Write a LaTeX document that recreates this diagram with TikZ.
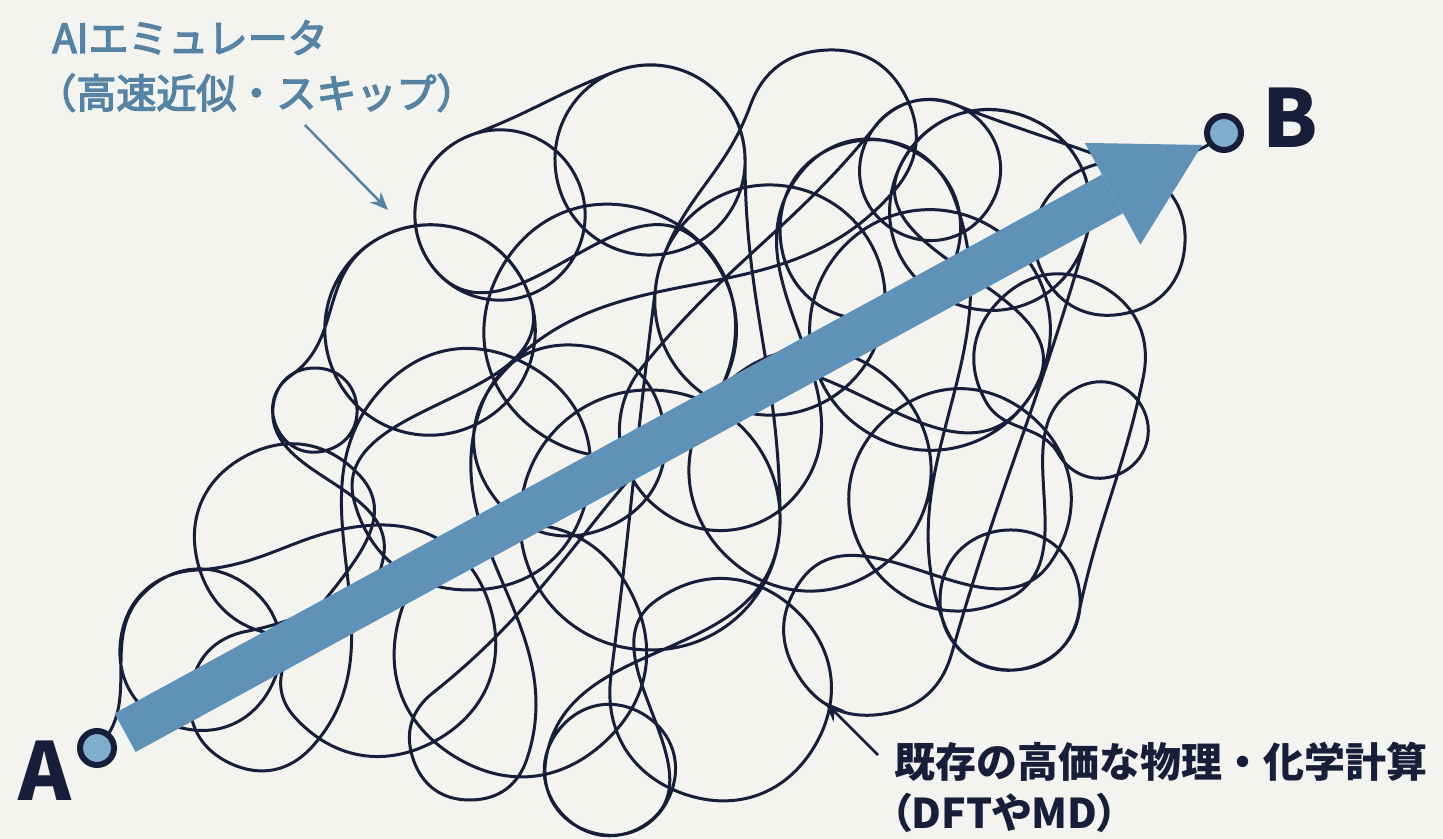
\documentclass[tikz,border=0pt]{standalone}
\usepackage{fontspec}
\newfontfamily\jp{Noto Sans CJK JP}
\newfontfamily\jpmed{Noto Sans CJK JP}[FakeBold=3.5]
\newfontfamily\jpprop{Noto Sans CJK JP}[RawFeature=+palt]
\usetikzlibrary{arrows.meta}
\definecolor{paper}{RGB}{243,243,239}
\definecolor{ink}{RGB}{22,30,58}
\definecolor{steel}{RGB}{96,145,182}
\definecolor{steellight}{RGB}{128,172,206}
\definecolor{labelblue}{RGB}{86,131,163}
\pgfdeclarelayer{paperlayer}
\pgfdeclarelayer{back}
\pgfsetlayers{paperlayer,back,main}

% append one Bezier piece from the current pen state to (#1,#2),
% arriving with unit tangent (#3,#4)
\newcommand\scribbleto[4]{%
  \pgfmathsetmacro\dd{0.4*veclen(#1-\lastx,#2-\lasty)}%
  \pgfmathsetmacro\ax{\lastx+\dd*\lasttx}%
  \pgfmathsetmacro\ay{\lasty+\dd*\lastty}%
  \pgfmathsetmacro\bx{#1-\dd*(#3)}%
  \pgfmathsetmacro\by{#2-\dd*(#4)}%
  \xdef\scribblepts{\scribblepts .. controls (\ax,\ay) and (\bx,\by) .. (#1,#2)}%
  \xdef\lastx{#1}\xdef\lasty{#2}\xdef\lasttx{#3}\xdef\lastty{#4}%
}

\begin{document}
\begin{tikzpicture}[x=0.5pt,y=-0.5pt,
  endpoint/.style={circle,draw=ink,fill=steellight,line width=3pt,
    minimum size=17pt,inner sep=0pt},
  ptlabel/.style={font=\jp\bfseries\fontsize{40}{40}\selectfont,text=ink,
    anchor=base west,inner sep=0pt},
  aitext/.style={font=\jpmed\fontsize{20}{24}\selectfont,text=labelblue,
    anchor=base west,inner sep=0pt},
  calctext/.style={font=\jp\bfseries\fontsize{20.5}{26}\selectfont,text=ink,
    anchor=base west,inner sep=0pt},
  scribble/.style={draw=ink,line width=1.5pt,line join=round,line cap=round},
  bigarrow/.style={draw=steel,line width=22pt,
    -{Triangle[width=58pt,length=51pt,line width=0pt]},
    shorten <=6pt,shorten >=2.5pt},
  annoblue/.style={draw=labelblue,line width=1.25pt,
    -{Stealth[length=9pt,width=7.5pt]}},
  annoink/.style={draw=ink,line width=1.25pt,
    -{Stealth[length=10pt,width=8pt]}},
]
\useasboundingbox (0,0) rectangle (1443,839);
\begin{pgfonlayer}{paperlayer}
  \fill[paper] (0,0) rectangle (1443,839);
\end{pgfonlayer}

% end points of the route
\node[endpoint] (A) at (97,748) {};
\node[endpoint] (B) at (1224,133) {};
\node[ptlabel] (Alabel) at (18,800) {A};
\node[ptlabel] (Blabel) at (1262,148) {B};

% Scribble: a chain of loops (centre x / centre y / radius / turning sense).
% The pen enters each loop along the line from the previous centre, runs
% round it and leaves heading for the next centre; the last entry is B.
\def\scribblepts{}
\xdef\ppx{97}\xdef\ppy{748}
\xdef\qx{200}\xdef\qy{650}\xdef\qr{80}\xdef\qs{1}
\xdef\lastx{97}\xdef\lasty{748}\xdef\lasttx{0.724}\xdef\lastty{-0.69}
\xdef\lastdout{-28.6}
\foreach \cx/\cy/\rad/\sgn in {
   380/640/115/1, 290/540/95/-1, 315/410/42/1, 430/330/105/1,
   470/470/120/-1, 260/700/70/1, 520/650/125/1, 610/330/125/-1,
   500/215/85/1, 650/160/95/1, 650/520/130/1, 610/770/65/-1,
   720/690/110/1, 770/300/115/1, 830/135/85/1, 570/440/95/-1,
   470/740/60/1, 810/470/120/1, 930/330/120/-1, 990/210/100/1,
   870/630/85/1, 960/500/110/-1, 1100/430/48/1, 1060/360/85/1,
   1010/600/70/1, 870/230/90/-1, 720/430/100/1, 930/170/70/1,
   1110/240/75/1, 1224/133/0/1}{
  \pgfmathsetmacro\din{atan2(\qy-\ppy,\qx-\ppx)}
  \pgfmathsetmacro\dout{atan2(\cy-\qy,\cx-\qx)}
  \pgfmathsetmacro\turn{360+\qs*(mod(\dout-\din+540,360)-180)}
  \pgfmathtruncatemacro\nn{ceil(\turn/95)}
  \pgfmathsetmacro\stepang{\qs*\turn/\nn}
  \foreach \jj in {0,...,\nn}{
    \pgfmathsetmacro\thang{\din-\qs*90+\jj*\stepang}
    \pgfmathsetmacro\px{\qx+\qr*cos(\thang)}
    \pgfmathsetmacro\py{\qy+\qr*sin(\thang)}
    \pgfmathsetmacro\tx{-\qs*sin(\thang)}
    \pgfmathsetmacro\ty{\qs*cos(\thang)}
    \scribbleto{\px}{\py}{\tx}{\ty}
  }
  \xdef\ppx{\qx}\xdef\ppy{\qy}
  \xdef\qx{\cx}\xdef\qy{\cy}\xdef\qr{\rad}\xdef\qs{\sgn}
  \xdef\lastdout{\dout}
}
% last piece, arriving at B
\pgfmathsetmacro\fx{cos(\lastdout)}
\pgfmathsetmacro\fy{sin(\lastdout)}
\scribbleto{1224}{133}{\fx}{\fy}

\begin{pgfonlayer}{back}
  % the tangled conventional path, from A to B
  \edef\drawscribble{\noexpand\draw[scribble] (A.center)\scribblepts
    -- (B.center);}
  \drawscribble
  % the direct shortcut
  \draw[bigarrow] (A) -- (B);
\end{pgfonlayer}

% captions
\node[aitext] (ai1) at (52,53) {AIエミュレータ};
\node[aitext] (ai2) at (36,108) {（高速近似・スキップ）};
\coordinate (aitail) at (305,125);
\coordinate (aitip) at (388,210);
\draw[annoblue] (aitail) -- (aitip);

\node[calctext] (calc1) at (894,777) {既存の高価な物理・化学計算};
\node[calctext,font=\jpprop\bfseries\fontsize{20.5}{26}\selectfont]
  (calc2) at (891,828) {（DFTやMD）};
\coordinate (calctail) at (878,755);
\coordinate (calctip) at (825,702);
\draw[annoink] (calctail) -- (calctip);
\end{tikzpicture}
\end{document}
